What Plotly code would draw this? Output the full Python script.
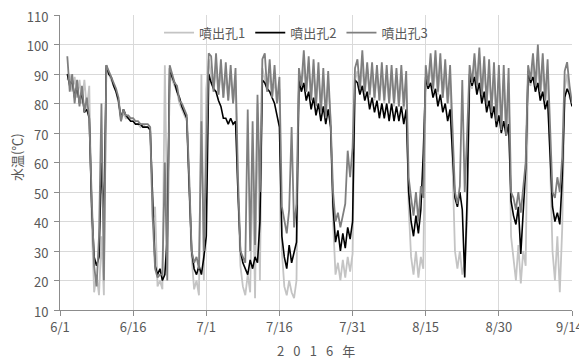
import pandas as pd
import plotly.graph_objects as go

# Sampling: every 12 h from 2016-06-02 12:00 to 2016-09-14 00:00
START = "2016-06-02 12:00"

# 噴出孔1 (light gray); one row = 5 days (10 readings)
s1 = [88,
      90, 84, 89, 82, 88, 80, 88, 78, 86, 40,
      16, 22, 15, 35, 15, 92, 90, 88, 86, 84,
      80, 74, 77, 75, 75, 74, 74, 73, 73, 72,
      73, 72, 72, 71, 40, 45, 18, 20, 17, 93,
      40, 92, 88, 86, 84, 80, 78, 76, 74, 50,
      28, 17, 20, 15, 90, 20, 85, 95, 90, 84,
      92, 83, 91, 82, 90, 81, 90, 80, 88, 50,
      25, 18, 15, 22, 16, 60, 14, 80, 20, 92,
      88, 84, 90, 82, 88, 80, 85, 30, 18, 15,
      20, 16, 14, 20, 88, 85, 93, 84, 92, 82,
      91, 80, 90, 78, 88, 76, 87, 74, 40, 22,
      26, 20, 27, 21, 28, 23, 29, 88, 91, 84,
      93, 83, 92, 82, 91, 81, 91, 81, 90, 80,
      90, 80, 90, 79, 89, 79, 89, 78, 88, 45,
      28, 22, 30, 21, 28, 24, 88, 85, 93, 84,
      93, 83, 92, 82, 90, 80, 88, 60, 30, 24,
      30, 22, 26, 40, 88, 85, 93, 84, 94, 82,
      92, 80, 91, 78, 90, 75, 89, 72, 88, 70,
      87, 35, 28, 20, 32, 19, 30, 25, 88, 86,
      93, 84, 94, 82, 92, 80, 91, 60, 30, 20,
      35, 16, 38, 85, 90, 82,
      80]

# 噴出孔2 (black)
s2 = [90,
      86, 88, 82, 86, 80, 84, 77, 78, 75, 45,
      28, 25, 28, 60, 40, 93, 90, 89, 86, 84,
      81, 75, 78, 76, 75, 74, 74, 73, 73, 73,
      72, 72, 72, 71, 45, 25, 22, 24, 20, 22,
      35, 92, 89, 87, 84, 82, 79, 77, 75, 52,
      30, 24, 22, 25, 22, 28, 35, 90, 87, 85,
      84, 81, 79, 75, 75, 73, 75, 73, 74, 50,
      30, 26, 24, 22, 27, 24, 28, 26, 40, 88,
      87, 85, 84, 82, 80, 76, 72, 35, 28, 24,
      32, 26, 30, 33, 88, 84, 87, 81, 84, 78,
      82, 76, 80, 74, 79, 73, 78, 72, 45, 33,
      37, 30, 36, 31, 38, 34, 40, 88, 87, 83,
      86, 81, 84, 78, 82, 77, 81, 75, 80, 75,
      80, 74, 80, 74, 79, 74, 79, 73, 78, 50,
      40, 35, 42, 36, 44, 63, 89, 85, 87, 82,
      85, 79, 83, 77, 80, 74, 78, 65, 48, 45,
      50, 44, 21, 48, 90, 86, 89, 83, 87, 80,
      84, 77, 81, 75, 79, 72, 76, 70, 74, 69,
      73, 47, 42, 39, 45, 29, 44, 58, 91, 87,
      89, 84, 87, 81, 84, 78, 81, 65, 45, 40,
      43, 39, 55, 82, 85, 83,
      79]

# 噴出孔3 (dark gray)
s3 = [96,
      84, 90, 80, 88, 79, 86, 77, 82, 75, 48,
      25, 18, 35, 80, 20, 93, 91, 89, 87, 85,
      82, 74, 78, 76, 76, 75, 75, 74, 74, 73,
      73, 73, 73, 72, 42, 24, 21, 22, 22, 60,
      20, 93, 90, 87, 86, 81, 80, 78, 76, 55,
      30, 26, 28, 24, 74, 30, 60, 97, 96, 84,
      97, 83, 95, 82, 94, 81, 93, 80, 92, 55,
      30, 28, 26, 78, 30, 74, 32, 83, 50, 95,
      97, 84, 95, 82, 93, 80, 89, 45, 40, 36,
      44, 72, 38, 46, 92, 86, 98, 84, 96, 81,
      95, 79, 94, 77, 92, 75, 91, 74, 50, 40,
      43, 38, 42, 46, 64, 55, 65, 92, 95, 85,
      98, 84, 94, 83, 94, 82, 93, 81, 94, 81,
      93, 80, 93, 80, 92, 79, 93, 79, 91, 55,
      48, 42, 50, 40, 52, 48, 93, 86, 97, 85,
      98, 84, 97, 82, 95, 80, 93, 70, 50, 46,
      52, 88, 50, 70, 93, 87, 97, 86, 99, 83,
      96, 80, 95, 77, 94, 74, 93, 71, 93, 69,
      92, 50, 48, 44, 50, 43, 52, 60, 93, 88,
      97, 86, 100, 84, 97, 81, 95, 75, 50, 48,
      55, 50, 62, 91, 94, 86,
      80]

series_names = ["噴出孔1", "噴出孔2", "噴出孔3"]
series_colors = ["#c4c4c4", "#000000", "#7f7f7f"]
series_widths = [1.8, 1.6, 1.8]

tick_dates = ["2016-06-01", "2016-06-16", "2016-07-01", "2016-07-16",
              "2016-07-31", "2016-08-15", "2016-08-30", "2016-09-14"]
tick_labels = ["6/1", "6/16", "7/1", "7/16", "7/31", "8/15", "8/30", "9/14"]

n = min(len(s1), len(s2), len(s3))
times = pd.date_range(START, periods=n, freq="12h")

FONT = "Noto Sans CJK JP, Noto Sans, sans-serif"
TXT = "#595959"

fig = go.Figure()
for name, vals, col, w in zip(series_names, [s1, s2, s3], series_colors, series_widths):
    fig.add_trace(go.Scatter(x=times, y=vals[:n], mode="lines", name=name,
                             line=dict(color=col, width=w)))

axis_common = dict(showline=True, linecolor="#8c8c8c", linewidth=1,
                   ticks="outside", ticklen=5, tickcolor="#8c8c8c",
                   showgrid=True, gridcolor="#d9d9d9", gridwidth=1,
                   zeroline=False, automargin=False,
                   ticklabeloverflow="allow",
                   tickfont=dict(family=FONT, size=13, color=TXT))

# last date label is drawn as an annotation, right-aligned so it stays on the page
fig.update_xaxes(type="date", range=["2016-06-01", "2016-09-14"],
                 tickvals=tick_dates, ticktext=tick_labels[:-1] + [""],
                 **axis_common)
fig.update_yaxes(range=[10, 110], dtick=10, tick0=10, ticklabelstandoff=3,
                 ticklabelshift=2, **axis_common)

fig.add_annotation(text=tick_labels[-1], xref="paper", yref="paper",
                   x=1.0263, y=-0.0576, xanchor="right", yanchor="middle",
                   showarrow=False,
                   font=dict(family=FONT, size=13, color=TXT))
fig.add_annotation(text="水温(℃)", xref="paper", yref="paper",
                   x=-0.085, y=0.52, xanchor="center", yanchor="middle",
                   showarrow=False, textangle=-90,
                   font=dict(family=FONT, size=13, color=TXT))
fig.add_annotation(text="2\u2002\u20090\u2002\u20091\u2002\u20096\u2002\u2009年",
                   xref="paper", yref="paper",
                   x=0.5, y=-0.137, xanchor="center", yanchor="middle",
                   showarrow=False,
                   font=dict(family=FONT, size=13, color=TXT))

# The page body has an 8 px margin, so the figure is sized/offset accordingly.
fig.update_layout(
    template="none",
    width=579, height=353,
    margin=dict(l=52, r=15, t=7, b=51, autoexpand=False),
    paper_bgcolor="white", plot_bgcolor="white",
    font=dict(family=FONT, size=13, color=TXT),
    showlegend=True,
    legend=dict(orientation="h", x=0.461, xanchor="center", y=0.94,
                yanchor="middle", bgcolor="rgba(0,0,0,0)",
                font=dict(family=FONT, size=13, color=TXT),
                traceorder="normal"),
)

fig.write_html("out.html")
